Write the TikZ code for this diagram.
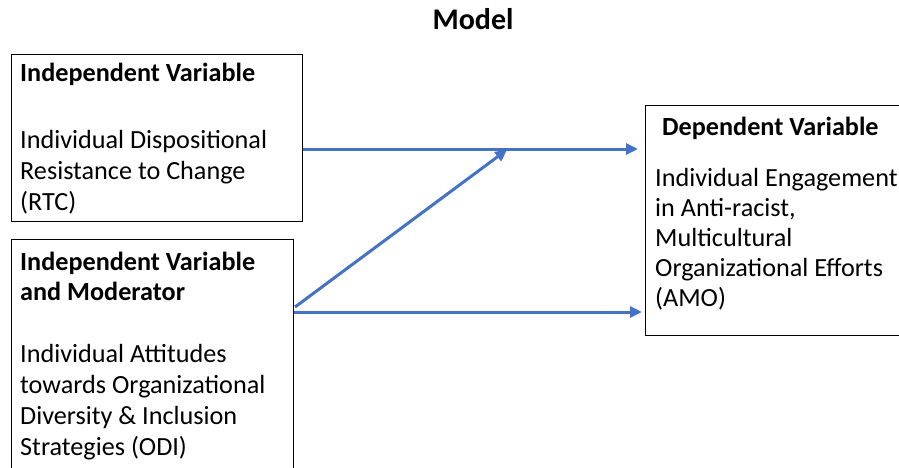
\documentclass[tikz,border=0pt]{standalone}
\usepackage{fontspec}
\setmainfont{Carlito}
\usetikzlibrary{arrows.meta}
\definecolor{flowblue}{HTML}{4472C4}
\begin{document}
\begin{tikzpicture}[x=1pt,y=-1pt,
  varbox/.style={draw=black, line width=1.4pt, rectangle, inner sep=0, anchor=north west},
  % multi-line texts are placed by the baseline of their last line
  headtxt/.style={anchor=base west, inner sep=0, align=left, font=\fontsize{26.2}{30}\selectfont\bfseries},
  bodytxt/.style={anchor=base west, inner sep=0, align=left, font=\fontsize{26.2}{31}\selectfont},
  flow/.style={draw=flowblue, line width=3pt, -{Triangle[length=12pt,width=11pt]}}]
\useasboundingbox (0,0) rectangle (899,467);
\clip (0,0) rectangle (899,467);

% title
\node[inner sep=0, anchor=base, font=\fontsize{30}{36}\selectfont\bfseries] (title) at (473,29) {Model};

% boxes
\node[varbox, minimum width=291pt, minimum height=167pt] (b1) at (11,54) {};
\node[varbox, minimum width=282pt, minimum height=260pt] (b2) at (11,239) {};
\node[varbox, minimum width=280pt, minimum height=230pt] (b3) at (645,105) {};

% box texts
\node[headtxt] (h1) at (20,81) {Independent Variable};
\node[bodytxt] (t1) at (20,210) {Individual Dispositional\\Resistance to Change\\(RTC)};

\node[headtxt] (h2) at (20,300) {Independent Variable\\and Moderator};
\node[bodytxt] (t2) at (20,455) {Individual Attitudes\\towards Organizational\\Diversity \& Inclusion\\Strategies (ODI)};

\node[headtxt] (h3) at (662,135) {Dependent Variable};
\node[bodytxt, font=\fontsize{26.2}{30}\selectfont] (t3) at (655,306) {Individual Engagement\\in Anti-racist,\\Multicultural\\Organizational Efforts\\(AMO)};

% connector levels
\coordinate (lvtop) at (0,149);
\coordinate (lvbot) at (0,312);
\coordinate (junction) at (508,149);
\coordinate (diagstart) at (295,307);

% connectors
\draw[flow, shorten >=7pt] (b1.east |- lvtop) -- (b3.west |- lvtop);
\draw[flow, shorten >=3pt] (b2.east |- lvbot) -- (b3.west |- lvbot);
\draw[flow, shorten >=1pt] (diagstart) -- (junction);
\end{tikzpicture}
\end{document}
